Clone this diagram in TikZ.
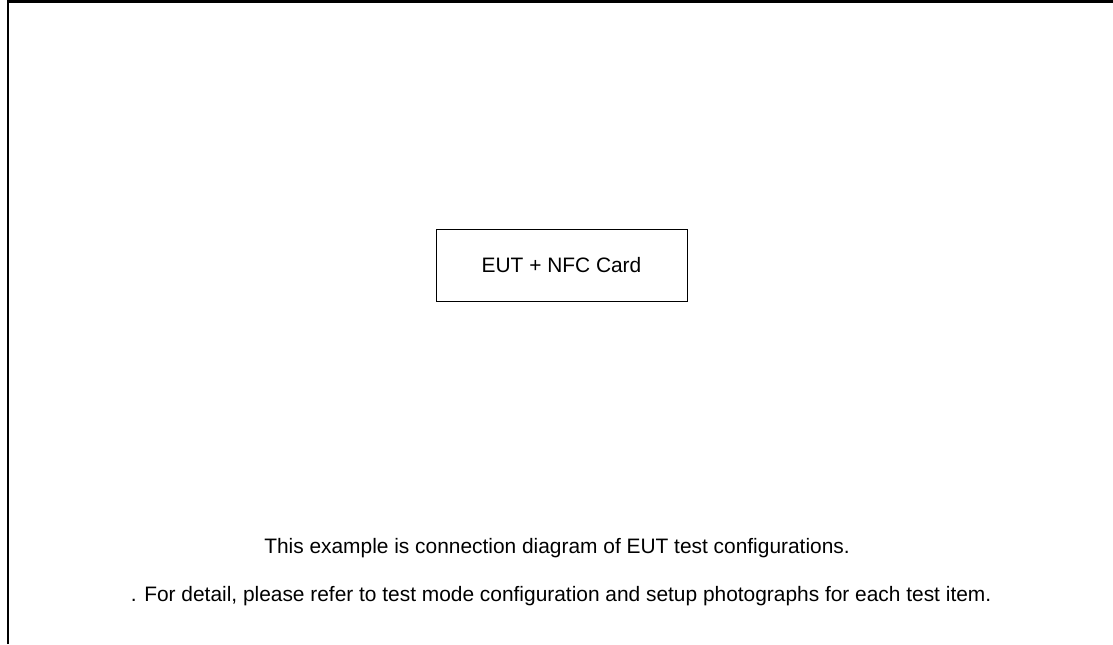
\documentclass[tikz,border=0pt]{standalone}
\usepackage{fontspec}
\setmainfont{Liberation Sans}
\usepackage{tikz}
\usetikzlibrary{positioning}
\begin{document}
\begin{tikzpicture}[x=0.5pt,y=-0.5pt,
      unitbox/.style={draw=black,line width=0.5pt,minimum width=125.5pt,minimum height=36pt,
                      inner sep=0pt,font=\fontsize{10.45}{12.5}\selectfont},
      notetext/.style={inner sep=0pt,anchor=base,font=\fontsize{10.45}{12.5}\selectfont}]
    \useasboundingbox (0,0) rectangle (1113,644);
    % frame
    \draw[line width=1.2pt] (8,644) -- (8,1.5) -- (1113,1.5);
    \node[unitbox](eut) at (561.5,265){EUT + NFC Card};
    \node[notetext](note1) at (557,553){This example is connection diagram of EUT test configurations.};
    \node[notetext](note2) at (561,601){. For detail, please refer to test mode configuration and setup photographs for each test item.};
  \end{tikzpicture}
\end{document}
